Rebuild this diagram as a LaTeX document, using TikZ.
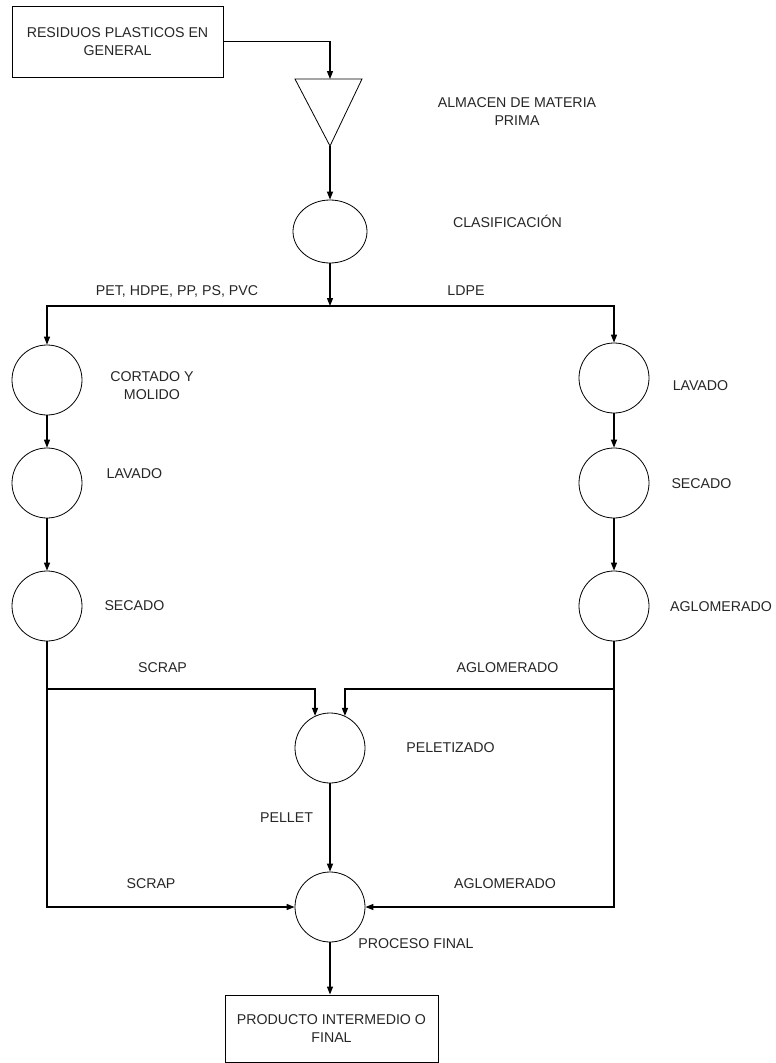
\documentclass[tikz,border=0pt]{standalone}
\usepackage{fontspec}
\setmainfont{Liberation Sans}
\usetikzlibrary{arrows.meta,shapes.geometric}
\begin{document}
\begin{tikzpicture}[x=1pt,y=-1pt,
  txt/.style={font=\fontsize{14.2}{18}\selectfont, text=black!85},
  lbl/.style={txt, inner sep=0pt, anchor=base},
  mlbl/.style={txt, inner sep=0pt, align=center, anchor=center},
  proc/.style={circle, draw, line width=0.8pt, minimum size=70pt, inner sep=0pt},
  boxnode/.style={draw, line width=1pt, inner sep=0pt, txt, align=center},
  conn/.style={line width=1.2pt},
  arr/.style={conn, -{Triangle[length=8pt,width=6pt]}}]
\useasboundingbox (0,0) rectangle (776,1063);

% nodes
\node[boxnode, minimum width=211pt, minimum height=71pt] (src) at (117.5,41.5) {RESIDUOS PLASTICOS EN\\GENERAL};
\coordinate (tritop) at (330,79);
\coordinate (triapex) at (330,146);
\draw[line width=0.8pt] (295,79) -- (362,79) -- (triapex) -- cycle;
\node[ellipse, draw, line width=0.8pt, minimum width=74pt, minimum height=63pt, inner sep=0pt] (clas) at (330,231.5) {};
\coordinate (split) at (330,306);

\node[proc] (l1) at (47,380) {};
\node[proc] (l2) at (47,483) {};
\node[proc] (l3) at (47,606) {};
\node[proc] (r1) at (614,378) {};
\node[proc] (r2) at (614,483) {};
\node[proc] (r3) at (614,606) {};
\coordinate (ljoin) at (47,689);
\coordinate (rjoin) at (614,689);
\node[proc] (pel) at (330,748) {};
\node[proc] (pf) at (330,907) {};
\node[boxnode, minimum width=213pt, minimum height=67pt] (prod) at (331.5,1028.5) {PRODUCTO INTERMEDIO O\\FINAL};

% connectors
\draw[arr] (src.east) -| (tritop);
\draw[arr] (triapex) -- (clas.north);
\draw[arr] (clas.south) -- (split);
\draw[arr] (split) -| (l1.north);
\draw[arr] (split) -| (r1.north);
\draw[arr] (l1.south) -- (l2.north);
\draw[arr] (l2.south) -- (l3.north);
\draw[arr] (r1.south) -- (r2.north);
\draw[arr] (r2.south) -- (r3.north);
\draw[arr] (l3.south) |- (pf.west);
\draw[arr] (r3.south) |- (pf.east);
\draw[arr] (ljoin) -| (pel.115);
\draw[arr] (rjoin) -| (pel.65);
\draw[arr] (pel.south) -- (pf.north);
\draw[arr] (pf.south) -- (pf.south |- prod.north);

% labels
\node[mlbl] (lalm) at (517,112) {ALMACEN DE MATERIA\\PRIMA};
\node[lbl] (lclas) at (507.5,227) {CLASIFICACIÓN};
\node[lbl] (lpet) at (177,295) {PET, HDPE, PP, PS, PVC};
\node[lbl] (lldpe) at (466,295) {LDPE};
\node[mlbl] (lcort) at (152,386) {CORTADO Y\\MOLIDO};
\node[lbl] (llav) at (134.5,478) {LAVADO};
\node[lbl] (lsec) at (134.5,610) {SECADO};
\node[lbl] (rlav) at (700.5,390) {LAVADO};
\node[lbl] (rsec) at (701.5,488) {SECADO};
\node[lbl] (ragl) at (721,611) {AGLOMERADO};
\node[lbl] (lscr1) at (162.5,672) {SCRAP};
\node[lbl] (ragl1) at (507.5,672) {AGLOMERADO};
\node[lbl] (lpel) at (450.5,752) {PELETIZADO};
\node[lbl] (lpellet) at (286.5,822) {PELLET};
\node[lbl] (lscr2) at (151,888) {SCRAP};
\node[lbl] (ragl2) at (505,888) {AGLOMERADO};
\node[lbl] (lpf) at (416,948) {PROCESO FINAL};
\end{tikzpicture}
\end{document}
